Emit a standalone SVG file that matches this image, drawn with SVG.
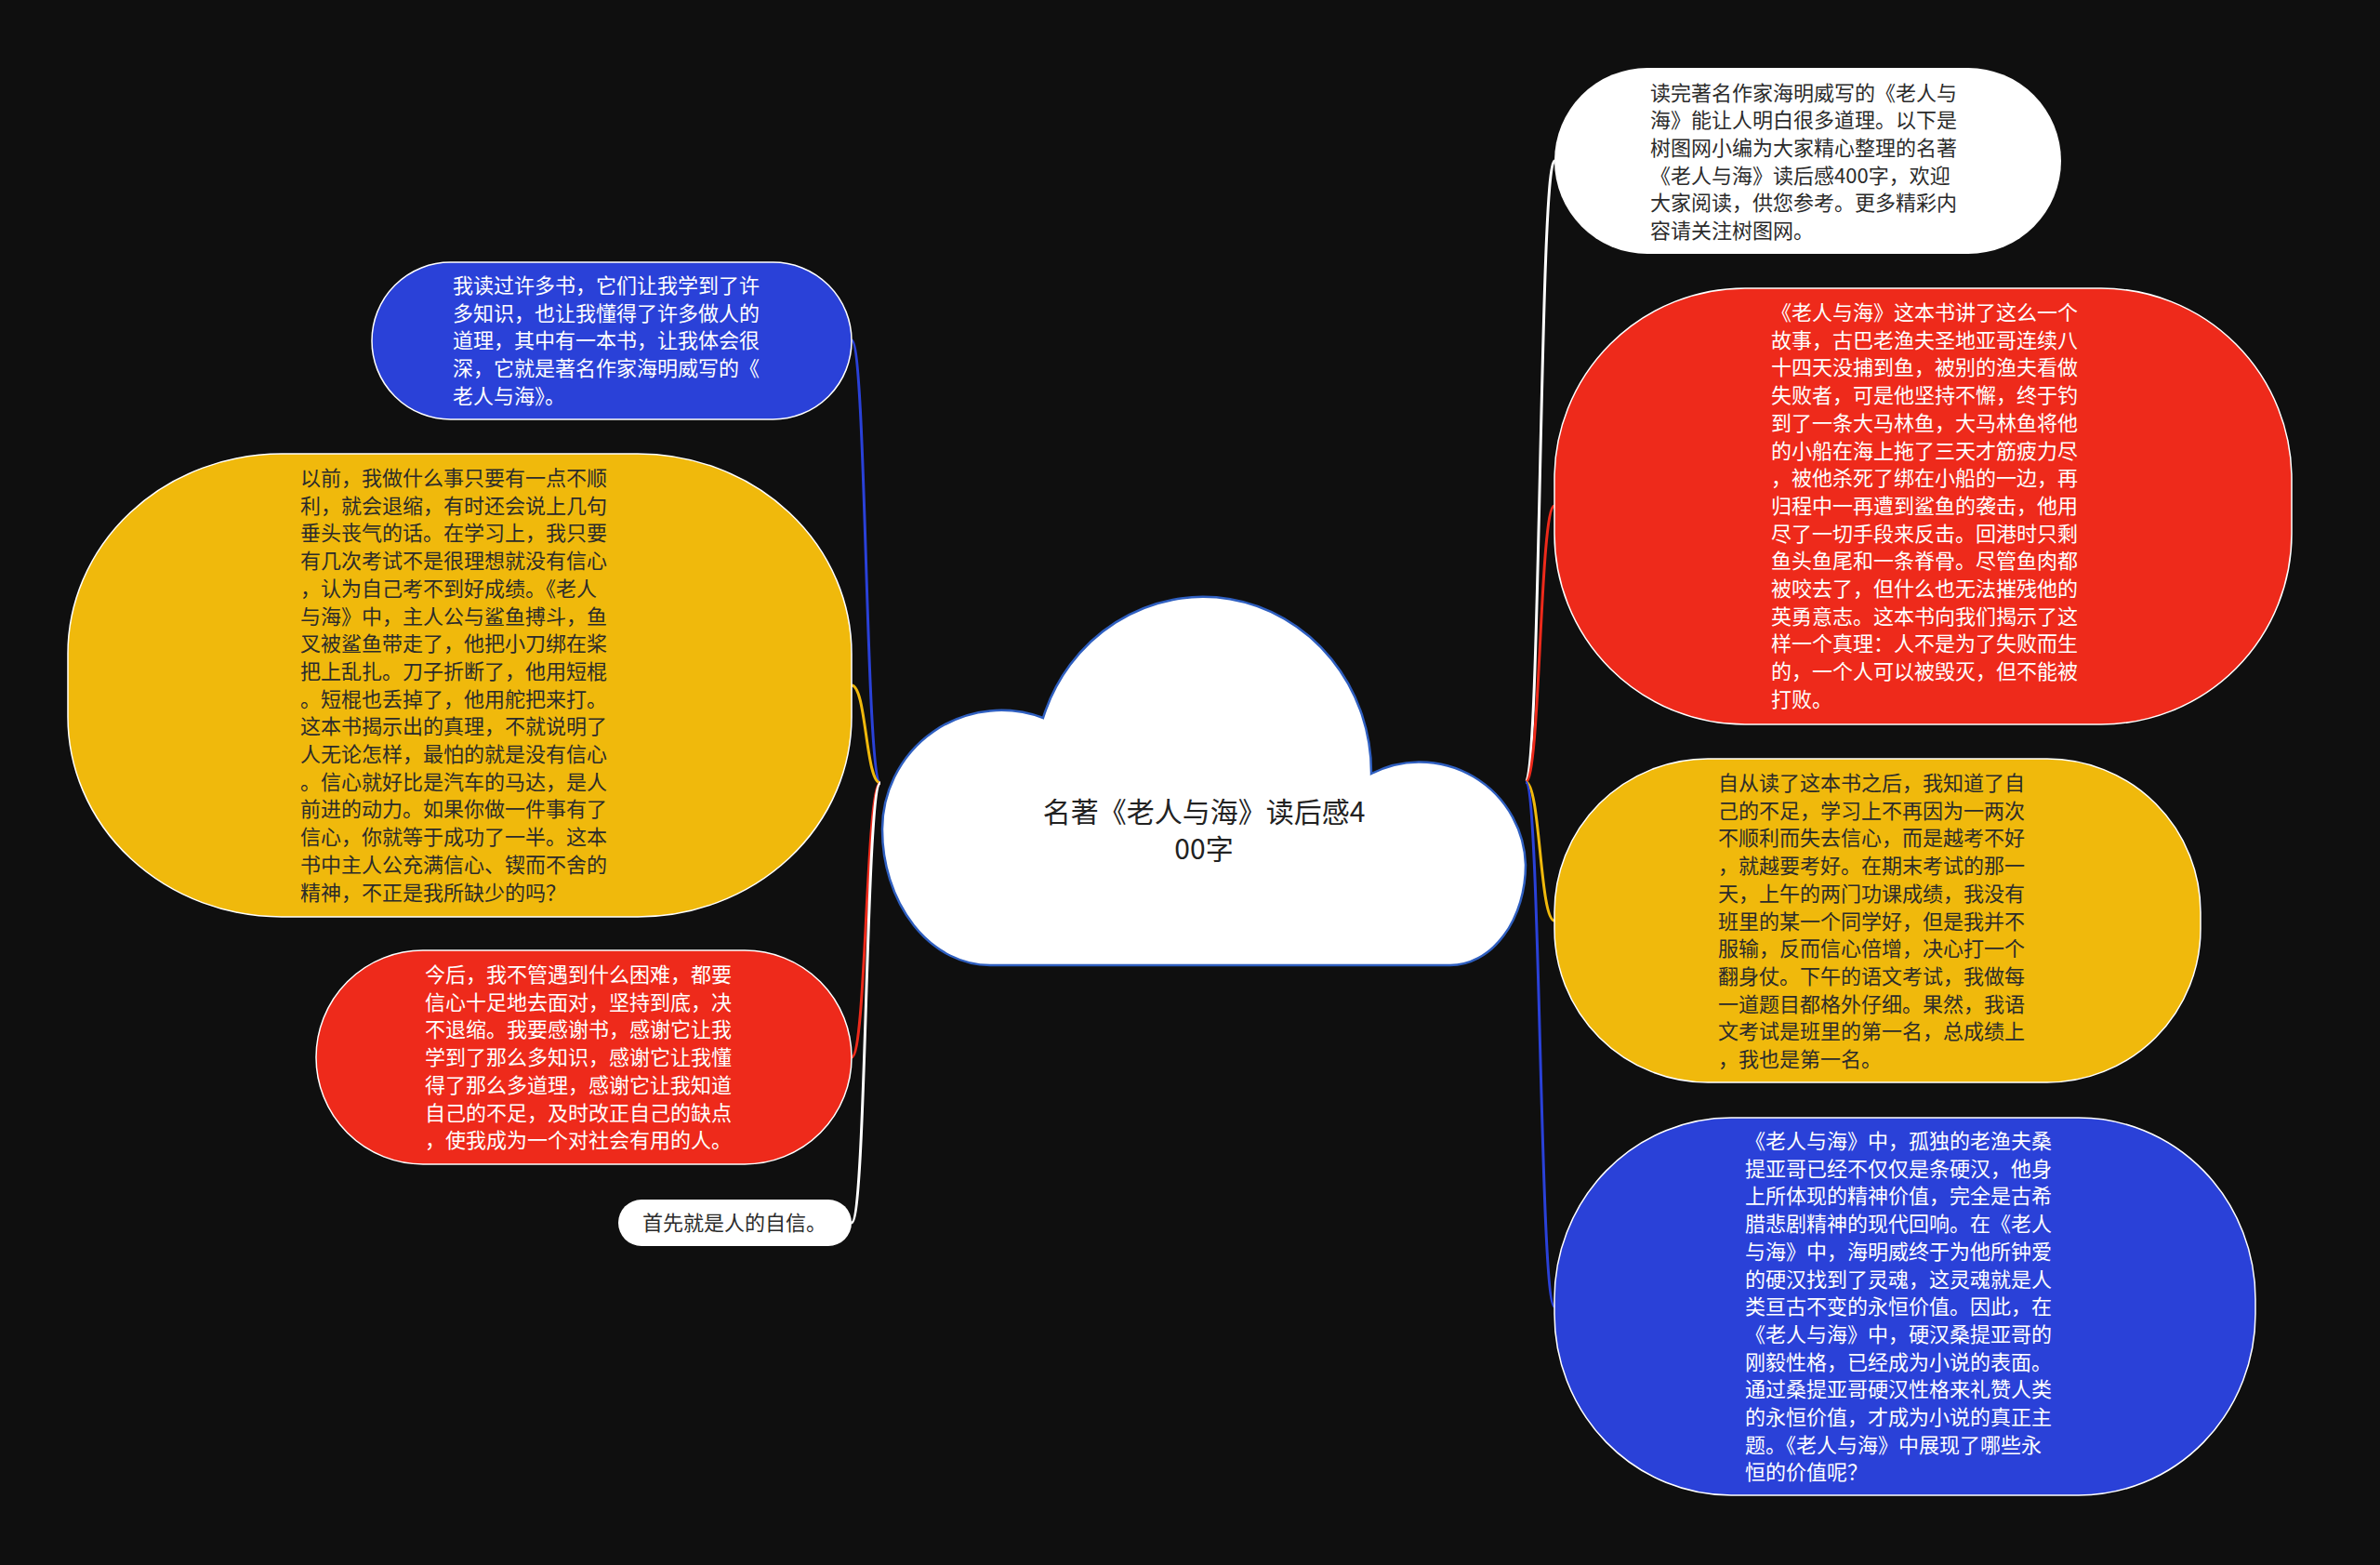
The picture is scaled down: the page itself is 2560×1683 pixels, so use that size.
<svg xmlns="http://www.w3.org/2000/svg" width="2560" height="1683" viewBox="0 0 2560 1683">
<style>
.t{font-family:"Noto Sans CJK SC","Noto Sans",sans-serif;font-size:22px}
.dk{fill:#2b2b2b}
.lt{fill:#ffffff}
.ttl{font-family:"Noto Sans CJK SC","Noto Sans",sans-serif;font-size:30px;fill:#222;text-anchor:middle}
.red{fill:#ee2a1b;stroke:#ffffff;stroke-width:1.5}
.yel{fill:#f0b90c;stroke:#ffffff;stroke-width:1.5}
.blu{fill:#2a41d8;stroke:#ffffff;stroke-width:1.5}
.wht{fill:#ffffff}
.c{fill:none;stroke-width:3}
</style>
<rect x="0" y="0" width="2560" height="1683" fill="#0f0f0f"/>
<g id="connectors">
<path class="c" stroke="#2a41d8" d="M947 842 C931 842 932 366 916 366"/>
<path class="c" stroke="#f0b90c" d="M947 842 C931 842 932 737 916 737"/>
<path class="c" stroke="#ee2a1b" d="M947 842 C931 842 932 1137 916 1137"/>
<path class="c" stroke="#ffffff" d="M947 842 C931 842 932 1315 916 1315"/>
<path class="c" stroke="#ffffff" d="M1641 841 C1657 841 1656 173 1672 173"/>
<path class="c" stroke="#ee2a1b" d="M1641 841 C1657 841 1656 544 1672 544"/>
<path class="c" stroke="#f0b90c" d="M1641 841 C1657 841 1656 990 1672 990"/>
<path class="c" stroke="#2a41d8" d="M1641 841 C1657 841 1656 1405 1672 1405"/>
</g>
<g id="root">
<path d="M1065 1038 A116 146 0 0 1 949 892 A128 128 0 0 1 1122 772 A181 189 0 0 1 1475 832 A114 114 0 0 1 1641 930 A81 108 0 0 1 1560 1038 Z" fill="#ffffff" stroke="#2f5fc0" stroke-width="2.5"/>
<text class="ttl" x="1295" y="884">名著《老人与海》读后感4</text>
<text class="ttl" x="1295" y="924">00字</text>
</g>
<g id="n-intro">
<rect class="wht" x="1672" y="73" width="545" height="200" rx="100" ry="100"/>
<text class="t dk" x="1775" y="107.5">读完著名作家海明威写的《老人与</text>
<text class="t dk" x="1775" y="137.2">海》能让人明白很多道理。以下是</text>
<text class="t dk" x="1775" y="166.9">树图网小编为大家精心整理的名著</text>
<text class="t dk" x="1775" y="196.6">《老人与海》读后感400字，欢迎</text>
<text class="t dk" x="1775" y="226.3">大家阅读，供您参考。更多精彩内</text>
<text class="t dk" x="1775" y="256">容请关注树图网。</text>
</g>
<g id="n-story">
<rect class="red" x="1672" y="310" width="793" height="469" rx="205" ry="205"/>
<text class="t lt" x="1905" y="344">《老人与海》这本书讲了这么一个</text>
<text class="t lt" x="1905" y="373.7">故事，古巴老渔夫圣地亚哥连续八</text>
<text class="t lt" x="1905" y="403.4">十四天没捕到鱼，被别的渔夫看做</text>
<text class="t lt" x="1905" y="433.1">失败者，可是他坚持不懈，终于钓</text>
<text class="t lt" x="1905" y="462.8">到了一条大马林鱼，大马林鱼将他</text>
<text class="t lt" x="1905" y="492.5">的小船在海上拖了三天才筋疲力尽</text>
<text class="t lt" x="1905" y="522.2">，被他杀死了绑在小船的一边，再</text>
<text class="t lt" x="1905" y="551.9">归程中一再遭到鲨鱼的袭击，他用</text>
<text class="t lt" x="1905" y="581.6">尽了一切手段来反击。回港时只剩</text>
<text class="t lt" x="1905" y="611.3">鱼头鱼尾和一条脊骨。尽管鱼肉都</text>
<text class="t lt" x="1905" y="641">被咬去了，但什么也无法摧残他的</text>
<text class="t lt" x="1905" y="670.7">英勇意志。这本书向我们揭示了这</text>
<text class="t lt" x="1905" y="700.4">样一个真理：人不是为了失败而生</text>
<text class="t lt" x="1905" y="730.1">的，一个人可以被毁灭，但不能被</text>
<text class="t lt" x="1905" y="759.8">打败。</text>
</g>
<g id="n-after">
<rect class="yel" x="1672" y="816" width="695" height="348" rx="165" ry="165"/>
<text class="t dk" x="1848" y="850">自从读了这本书之后，我知道了自</text>
<text class="t dk" x="1848" y="879.7">己的不足，学习上不再因为一两次</text>
<text class="t dk" x="1848" y="909.4">不顺利而失去信心，而是越考不好</text>
<text class="t dk" x="1848" y="939.1">，就越要考好。在期末考试的那一</text>
<text class="t dk" x="1848" y="968.8">天，上午的两门功课成绩，我没有</text>
<text class="t dk" x="1848" y="998.5">班里的某一个同学好，但是我并不</text>
<text class="t dk" x="1848" y="1028.2">服输，反而信心倍增，决心打一个</text>
<text class="t dk" x="1848" y="1057.9">翻身仗。下午的语文考试，我做每</text>
<text class="t dk" x="1848" y="1087.6">一道题目都格外仔细。果然，我语</text>
<text class="t dk" x="1848" y="1117.3">文考试是班里的第一名，总成绩上</text>
<text class="t dk" x="1848" y="1147">，我也是第一名。</text>
</g>
<g id="n-value">
<rect class="blu" x="1672" y="1202" width="754" height="406" rx="190" ry="195"/>
<text class="t lt" x="1877" y="1235">《老人与海》中，孤独的老渔夫桑</text>
<text class="t lt" x="1877" y="1264.7">提亚哥已经不仅仅是条硬汉，他身</text>
<text class="t lt" x="1877" y="1294.4">上所体现的精神价值，完全是古希</text>
<text class="t lt" x="1877" y="1324.1">腊悲剧精神的现代回响。在《老人</text>
<text class="t lt" x="1877" y="1353.8">与海》中，海明威终于为他所钟爱</text>
<text class="t lt" x="1877" y="1383.5">的硬汉找到了灵魂，这灵魂就是人</text>
<text class="t lt" x="1877" y="1413.2">类亘古不变的永恒价值。因此，在</text>
<text class="t lt" x="1877" y="1442.9">《老人与海》中，硬汉桑提亚哥的</text>
<text class="t lt" x="1877" y="1472.6">刚毅性格，已经成为小说的表面。</text>
<text class="t lt" x="1877" y="1502.3">通过桑提亚哥硬汉性格来礼赞人类</text>
<text class="t lt" x="1877" y="1532">的永恒价值，才成为小说的真正主</text>
<text class="t lt" x="1877" y="1561.7">题。《老人与海》中展现了哪些永</text>
<text class="t lt" x="1877" y="1591.4">恒的价值呢？</text>
</g>
<g id="n-books">
<rect class="blu" x="400" y="282" width="516" height="169" rx="84.5" ry="84.5"/>
<text class="t lt" x="487" y="315">我读过许多书，它们让我学到了许</text>
<text class="t lt" x="487" y="344.7">多知识，也让我懂得了许多做人的</text>
<text class="t lt" x="487" y="374.4">道理，其中有一本书，让我体会很</text>
<text class="t lt" x="487" y="404.1">深，它就是著名作家海明威写的《</text>
<text class="t lt" x="487" y="433.8">老人与海》。</text>
</g>
<g id="n-before">
<rect class="yel" x="73" y="488" width="843" height="498" rx="230" ry="215"/>
<text class="t dk" x="323" y="522">以前，我做什么事只要有一点不顺</text>
<text class="t dk" x="323" y="551.7">利，就会退缩，有时还会说上几句</text>
<text class="t dk" x="323" y="581.4">垂头丧气的话。在学习上，我只要</text>
<text class="t dk" x="323" y="611.1">有几次考试不是很理想就没有信心</text>
<text class="t dk" x="323" y="640.8">，认为自己考不到好成绩。《老人</text>
<text class="t dk" x="323" y="670.5">与海》中，主人公与鲨鱼搏斗，鱼</text>
<text class="t dk" x="323" y="700.2">叉被鲨鱼带走了，他把小刀绑在桨</text>
<text class="t dk" x="323" y="729.9">把上乱扎。刀子折断了，他用短棍</text>
<text class="t dk" x="323" y="759.6">。短棍也丢掉了，他用舵把来打。</text>
<text class="t dk" x="323" y="789.3">这本书揭示出的真理，不就说明了</text>
<text class="t dk" x="323" y="819">人无论怎样，最怕的就是没有信心</text>
<text class="t dk" x="323" y="848.7">。信心就好比是汽车的马达，是人</text>
<text class="t dk" x="323" y="878.4">前进的动力。如果你做一件事有了</text>
<text class="t dk" x="323" y="908.1">信心，你就等于成功了一半。这本</text>
<text class="t dk" x="323" y="937.8">书中主人公充满信心、锲而不舍的</text>
<text class="t dk" x="323" y="967.5">精神，不正是我所缺少的吗？</text>
</g>
<g id="n-future">
<rect class="red" x="340" y="1022" width="576" height="230" rx="115" ry="115"/>
<text class="t lt" x="457" y="1056">今后，我不管遇到什么困难，都要</text>
<text class="t lt" x="457" y="1085.7">信心十足地去面对，坚持到底，决</text>
<text class="t lt" x="457" y="1115.4">不退缩。我要感谢书，感谢它让我</text>
<text class="t lt" x="457" y="1145.1">学到了那么多知识，感谢它让我懂</text>
<text class="t lt" x="457" y="1174.8">得了那么多道理，感谢它让我知道</text>
<text class="t lt" x="457" y="1204.5">自己的不足，及时改正自己的缺点</text>
<text class="t lt" x="457" y="1234.2">，使我成为一个对社会有用的人。</text>
</g>
<g id="n-confidence">
<rect class="wht" x="665" y="1290" width="251" height="50" rx="25" ry="25"/>
<text class="t dk" x="691" y="1323">首先就是人的自信。</text>
</g>
</svg>
